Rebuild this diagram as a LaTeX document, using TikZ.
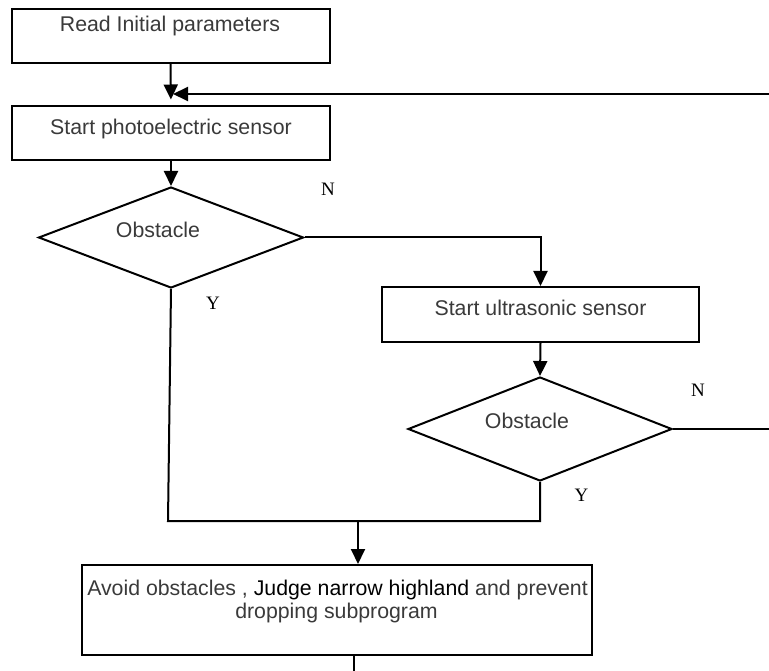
\documentclass[tikz,border=0pt]{standalone}
\usepackage{fontspec}
\setmainfont{Liberation Sans}
\newfontfamily\serifyn{Liberation Serif}
\usetikzlibrary{shapes.geometric,arrows.meta}
\definecolor{txtgrey}{HTML}{3A3A3A}
\tikzset{
  box/.style={draw=black, line width=2pt, rectangle, inner sep=0pt, fill=white},
  decision/.style={draw=black, line width=2pt, diamond, inner sep=0pt, fill=white},
  lbl/.style={font=\fontsize{21.3}{23.5}\selectfont, text=txtgrey, anchor=base, inner sep=0pt},
  yn/.style={font=\fontsize{19}{22}\selectfont\serifyn, text=black, anchor=base, inner sep=0pt},
  conn/.style={line width=2pt, draw=black},
  arr/.style={conn, -{Triangle[length=15pt,width=14pt]}},
}
\begin{document}
\begin{tikzpicture}[x=1pt,y=-1pt]
\useasboundingbox[fill=white] (0,0) rectangle (769,671);

% shapes
\node[box, minimum width=318pt, minimum height=54pt] (b1) at (170.5,36) {};
\node[box, minimum width=318pt, minimum height=54pt] (b2) at (171,133.5) {};
\node[decision, minimum width=265pt, minimum height=101pt] (d1) at (171,237.5) {};
\node[box, minimum width=317pt, minimum height=55pt] (b3) at (540.5,314.5) {};
\node[decision, minimum width=264pt, minimum height=104pt] (d2) at (540,429) {};
\node[box, minimum width=510pt, minimum height=90pt] (b4) at (337,610) {};

% texts
\node[lbl] (t1) at (170,31.7) {Read Initial parameters};
\node[lbl] (t2) at (171,135) {Start photoelectric sensor};
\node[lbl] (t3) at (158,237.7) {Obstacle};
\node[lbl] (t4) at (540.5,316) {Start ultrasonic sensor};
\node[lbl] (t5) at (527,428.3) {Obstacle};
\node[lbl] (t6) at (337.5,595) {Avoid obstacles , \textcolor{black}{Judge narrow highland} and prevent};
\node[lbl] (t7) at (336.5,618.5) {dropping subprogram};

\node[yn] (n1) at (328,196) {N};
\node[yn] (y1) at (213,309) {Y};
\node[yn] (n2) at (698,396) {N};
\node[yn] (y2) at (581.5,501.5) {Y};

% free-end coordinates
\coordinate (loopin) at (769,94);
\coordinate (looptip) at (173,94);
\coordinate (loopout) at (769,429);
\coordinate (jl) at (168,521);
\coordinate (jr) at (540,521);
\coordinate (jm) at (358,521);
\coordinate (bot) at (354,671);

% connectors
\draw[arr, shorten >=6pt] (b1.south) -- (b2.north);
\draw[arr] (loopin) -- (looptip);
\draw[arr] (b2.south) -- (d1.north);
\draw[arr] (d1.east) -- (d1.east -| b3.north) -- (b3.north);
\draw[arr] (b3.south) -- (d2.north);
\draw[conn] (d2.east) -- (loopout);
\draw[conn] (d1.south) -- (jl) -- (jr) -- (d2.south);
\draw[arr] (jm) -- (jm |- b4.north);
\draw[conn] (bot |- b4.south) -- (bot);
\end{tikzpicture}
\end{document}
